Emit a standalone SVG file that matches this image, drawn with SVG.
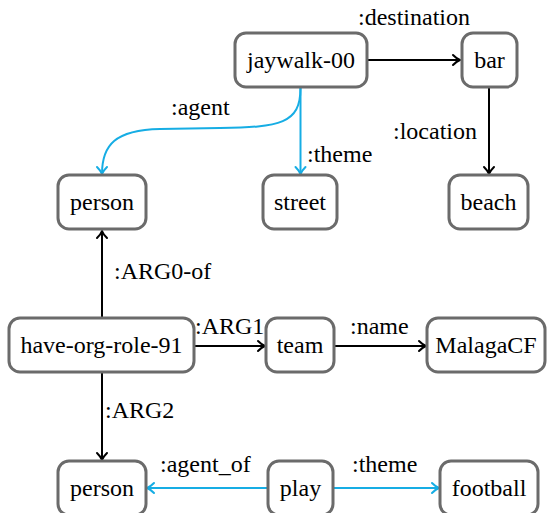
<svg xmlns="http://www.w3.org/2000/svg" width="550" height="513" viewBox="0 0 550 513">
<defs>
<marker id="ak" markerUnits="userSpaceOnUse" viewBox="-10 -6 12 12" refX="0" refY="0" markerWidth="12" markerHeight="12" orient="auto" overflow="visible">
<path d="M-7,-5 Q-3,-1 0,0 Q-3,1 -7,5" fill="none" stroke="#000" stroke-width="2" stroke-linecap="round" stroke-linejoin="round"/>
</marker>
<marker id="ab" markerUnits="userSpaceOnUse" viewBox="-10 -6 12 12" refX="0" refY="0" markerWidth="12" markerHeight="12" orient="auto" overflow="visible">
<path d="M-7,-5 Q-3,-1 0,0 Q-3,1 -7,5" fill="none" stroke="#16ade4" stroke-width="2" stroke-linecap="round" stroke-linejoin="round"/>
</marker>
</defs>
<g id="edges" fill="none" stroke-width="2">
<path stroke="#000" d="M367,60 H460" marker-end="url(#ak)"/>
<path stroke="#000" d="M489,87 V174" marker-end="url(#ak)"/>
<path stroke="#16ade4" d="M300.5,88 C300.5,124 280,127 220,128 L160,129 C115,130 102,145 102,174" marker-end="url(#ab)"/>
<path stroke="#16ade4" d="M300.5,88 V174" marker-end="url(#ab)"/>
<path stroke="#000" d="M102,318 V231" marker-end="url(#ak)"/>
<path stroke="#000" d="M194,346 H265" marker-end="url(#ak)"/>
<path stroke="#000" d="M334,346 H426" marker-end="url(#ak)"/>
<path stroke="#000" d="M102,372 V460" marker-end="url(#ak)"/>
<path stroke="#16ade4" d="M268,488 H147" marker-end="url(#ab)"/>
<path stroke="#16ade4" d="M333,488 H439" marker-end="url(#ab)"/>
</g>
<g id="edge-labels" font-family="Times, Liberation Serif, serif" font-size="24">
<text x="358" y="25" font-family="Times">:destination</text>
<text x="393" y="139" font-family="Times">:location</text>
<text x="171" y="115" font-family="Times">:agent</text>
<text x="307" y="162" font-family="Times">:theme</text>
<text x="114" y="279" font-family="Times">:ARG0-of</text>
<text x="195" y="334" font-family="Times">:ARG1</text>
<text x="350" y="334" font-family="Times">:name</text>
<text x="105" y="418" font-family="Times">:ARG2</text>
<text x="160" y="472" font-family="Times">:agent_of</text>
<text x="352" y="472" font-family="Times">:theme</text>
</g>
<g fill="#fff" stroke="#6b6b6b" stroke-width="3">
<g id="jaywalk"><rect x="235" y="33" width="132" height="54" rx="11"/><text x="301" y="68" font-family="Times" font-size="24" text-anchor="middle" fill="#000" stroke="none">jaywalk-00</text></g>
<g id="bar"><rect x="462" y="33" width="55" height="54" rx="11"/><text x="489.5" y="68" font-family="Times" font-size="24" text-anchor="middle" fill="#000" stroke="none">bar</text></g>
<g id="person1"><rect x="58" y="175" width="88" height="54" rx="11"/><text x="102" y="210" font-family="Times" font-size="24" text-anchor="middle" fill="#000" stroke="none">person</text></g>
<g id="street"><rect x="263" y="175" width="74" height="54" rx="11"/><text x="300" y="210" font-family="Times" font-size="24" text-anchor="middle" fill="#000" stroke="none">street</text></g>
<g id="beach"><rect x="449" y="175" width="79" height="54" rx="11"/><text x="488.5" y="210" font-family="Times" font-size="24" text-anchor="middle" fill="#000" stroke="none">beach</text></g>
<g id="haveorg"><rect x="9" y="318" width="185" height="54" rx="11"/><text x="101.5" y="353" font-family="Times" font-size="24" text-anchor="middle" fill="#000" stroke="none">have-org-role-91</text></g>
<g id="team"><rect x="266" y="318" width="68" height="54" rx="11"/><text x="300" y="353" font-family="Times" font-size="24" text-anchor="middle" fill="#000" stroke="none">team</text></g>
<g id="malaga"><rect x="427" y="318" width="118" height="54" rx="11"/><text x="486" y="353" font-family="Times" font-size="24" text-anchor="middle" fill="#000" stroke="none">MalagaCF</text></g>
<g id="person2"><rect x="58" y="461" width="88" height="54" rx="11"/><text x="102" y="496" font-family="Times" font-size="24" text-anchor="middle" fill="#000" stroke="none">person</text></g>
<g id="play"><rect x="268" y="461" width="65" height="54" rx="11"/><text x="300.5" y="496" font-family="Times" font-size="24" text-anchor="middle" fill="#000" stroke="none">play</text></g>
<g id="football"><rect x="440" y="461" width="98" height="54" rx="11"/><text x="489" y="496" font-family="Times" font-size="24" text-anchor="middle" fill="#000" stroke="none">football</text></g>
</g>
</svg>
